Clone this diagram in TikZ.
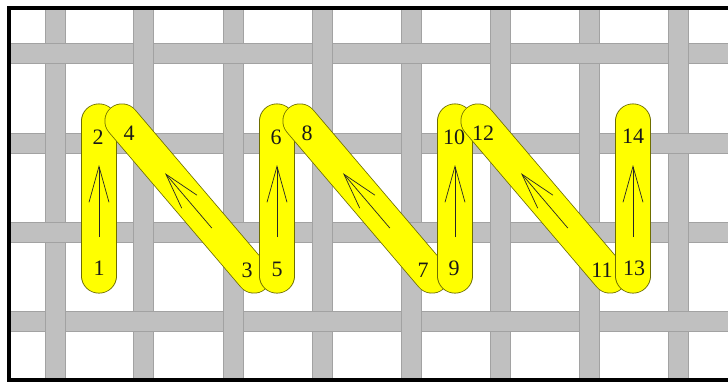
\documentclass[tikz,border=0pt]{standalone}
\usepackage{fontspec}
\setmainfont{Liberation Serif}
\usetikzlibrary{calc,arrows.meta}
\definecolor{thread}{HTML}{C0C0C0}
\definecolor{threadedge}{HTML}{A2A2A2}
\definecolor{stitchedge}{RGB}{110,110,0}
\definecolor{stitchfill}{RGB}{255,255,0}
\tikzset{
  threadband/.style={fill=thread,draw=threadedge,line width=0.7pt},
  stitchline/.style={draw=stitchedge,line width=0.8pt,double=stitchfill,double distance=33.5pt,line cap=round},
  dirarrow/.style={draw=black!85,line width=0.7pt,-{Straight Barb[length=36pt,width=20pt]}},
  num/.style={inner sep=0pt,font=\fontsize{22}{22}\selectfont,text=black!90},
  frameline/.style={line width=4pt,draw=black}
}
\begin{document}
\begin{tikzpicture}[x=1pt,y=-1pt]
\useasboundingbox (0,0) rectangle (728,381);
\begin{scope}
\clip (10,9) rectangle (728,379);
% vertical threads
\foreach \x in {55,143,233,322,411,500,589,678}
  \path[threadband] (\x-10,4) rectangle (\x+10,390);
% horizontal threads
\foreach \y in {53,143,232,321}
  \path[threadband] (4,\y-10) rectangle (740,\y+10);
% vertical threads over horizontal where (row+col) odd
\foreach \x [count=\c from 0] in {55,143,233,322,411,500,589,678}{
  \foreach \y [count=\r from 0] in {53,143,232,321}{
    \pgfmathtruncatemacro{\odd}{mod(\c+\r,2)}
    \ifnum\odd=1
      \fill[thread] (\x-10,\y-10.5) rectangle (\x+10,\y+10.5);
      \draw[threadedge,line width=0.7pt] (\x-10,\y-10.5) -- (\x-10,\y+10.5) (\x+10,\y-10.5) -- (\x+10,\y+10.5);
    \fi
  }
}
\end{scope}
% stitch end points
\coordinate (s1) at (99,276);  \coordinate (s2) at (99,121);
\coordinate (s3) at (254,276); \coordinate (s4) at (122,121);
\coordinate (s5) at (277,276); \coordinate (s6) at (277,121);
\coordinate (s7) at (432,276); \coordinate (s8) at (300,121);
\coordinate (s9) at (455,276); \coordinate (s10) at (455,121);
\coordinate (s11) at (610,276);\coordinate (s12) at (478,121);
\coordinate (s13) at (633,276);\coordinate (s14) at (633,121);
\foreach \a/\b/\ax/\ay/\bx/\by in {
  1/2/99/268/98/137,
  3/4/247/270/129/133,
  5/6/277/269/276/137,
  7/8/423/270/307/133,
  9/10/454/268/454/137,
  11/12/602/270/483/133,
  13/14/634/268/633/136}{
  \draw[stitchline] (s\a) -- (s\b);
  \coordinate (m\a) at ($(s\a)!0.5!(s\b)+(0,2.5)$);
  \draw[dirarrow] ($(m\a)!36pt!(s\a)$) -- ($(m\a)!36pt!(s\b)$);
  \node[num] (n\a) at (\ax,\ay) {\a};
  \node[num] (n\b) at (\bx,\by) {\b};
}
% frame
\draw[frameline] (7,8) -- (728,8);
\draw[frameline] (9,6) -- (9,381);
\draw[frameline] (7,380) -- (728,380);
\end{tikzpicture}
\end{document}
